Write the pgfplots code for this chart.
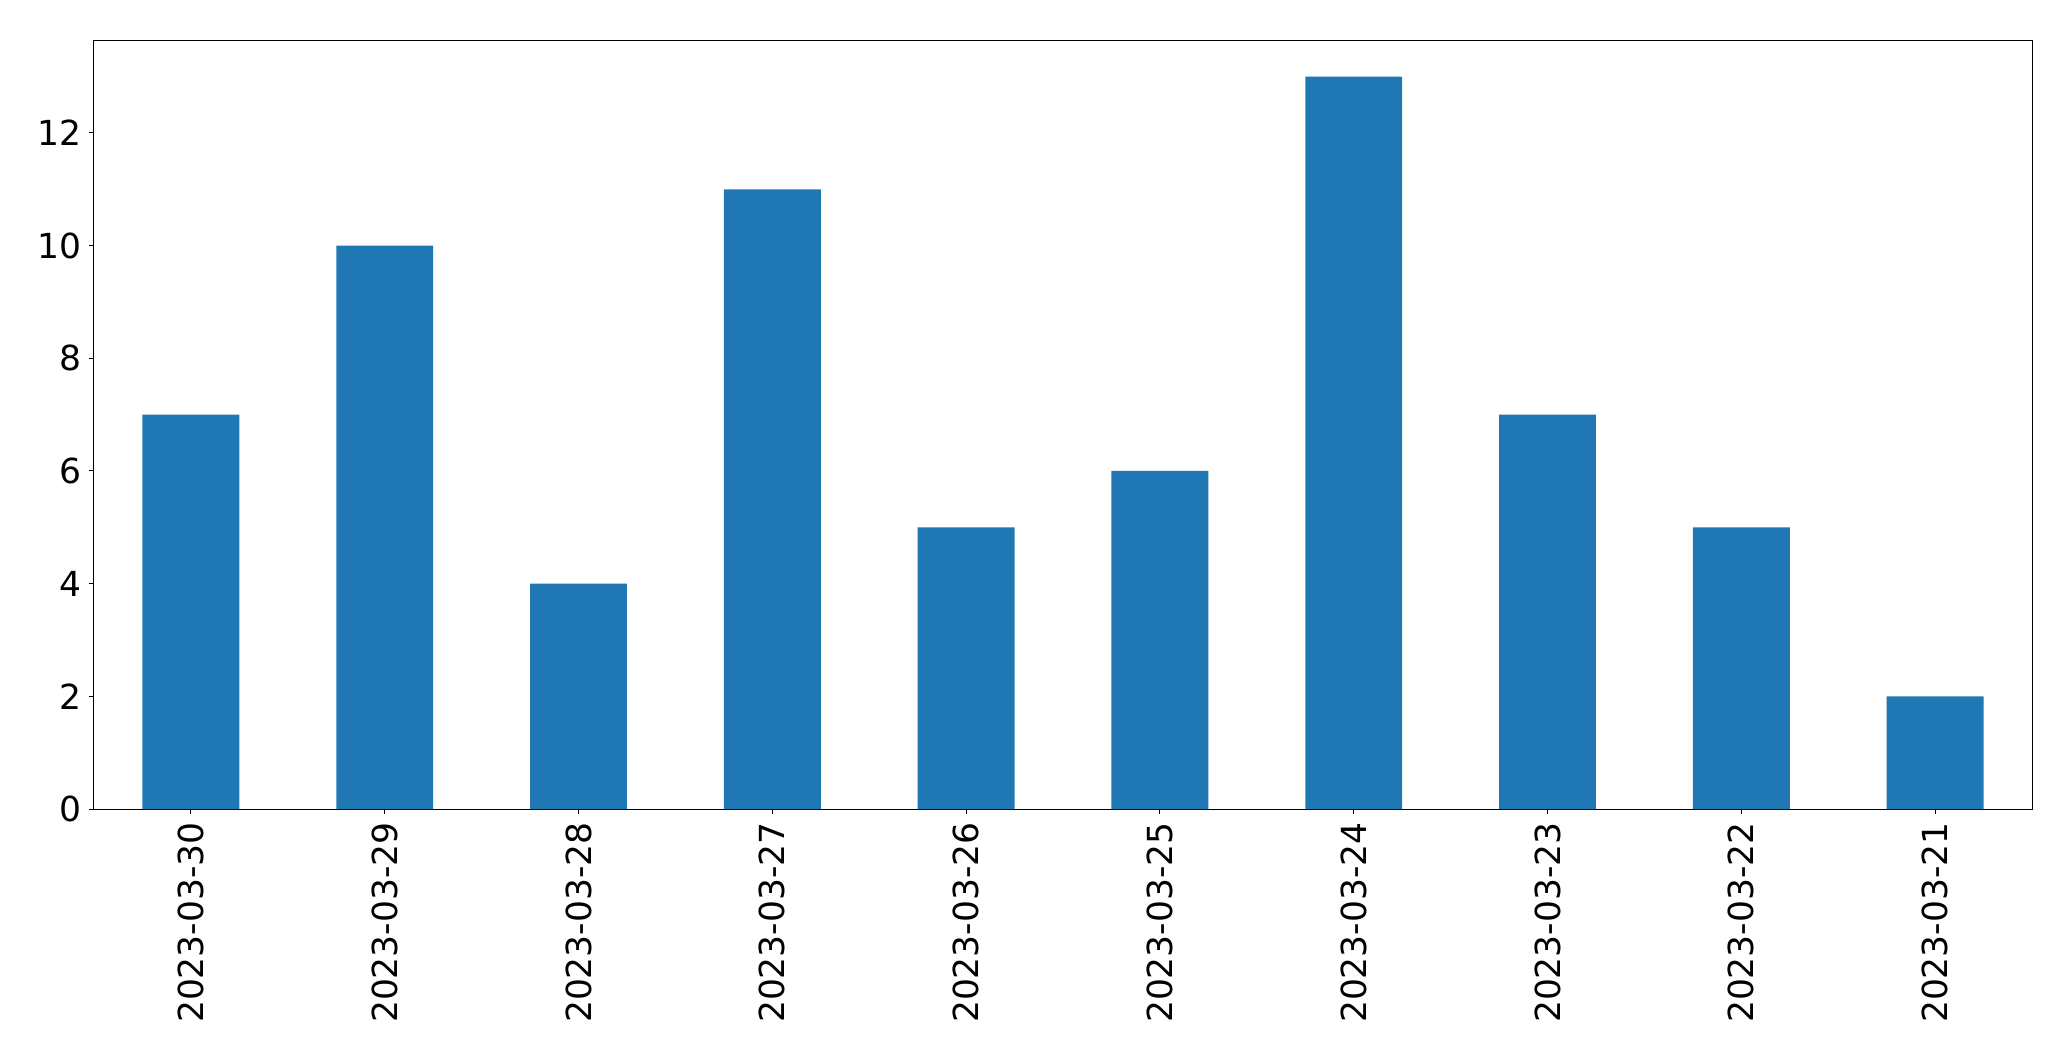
\documentclass[border=0pt]{standalone}
\usepackage{pgfplots}
\pgfplotsset{compat=1.18}
\usepackage{fontspec}
\setmainfont{DejaVu Sans}
\definecolor{tabblue}{HTML}{1F77B4}
\begin{document}
\begin{tikzpicture}
\begin{axis}[
  width=969pt, height=384.5pt,
  scale only axis,
  xmin=-0.5, xmax=9.5,
  ymin=0, ymax=13.65,
  xtick={0,...,9},
  xticklabels={2023-03-30,2023-03-29,2023-03-28,2023-03-27,2023-03-26,2023-03-25,2023-03-24,2023-03-23,2023-03-22,2023-03-21},
  ytick={0,2,4,6,8,10,12},
  tick align=outside,
  xtick pos=left, ytick pos=left,
  major tick length=2.5pt,
  tick style={black, line width=0.5pt},
  axis line style={black, line width=0.5pt},
  /pgf/number format/assume math mode=true,
  tick label style={font=\fontsize{17.25pt}{20pt}\selectfont},
  xticklabel style={rotate=90, anchor=east, inner sep=0pt, xshift=-4pt},
  yticklabel style={anchor=east, inner sep=0pt, xshift=-3.5pt},
]
\addplot[ybar, bar width=0.5, fill=tabblue, draw=none] coordinates {
(0,7) (1,10) (2,4) (3,11) (4,5) (5,6) (6,13) (7,7) (8,5) (9,2)
};
\end{axis}
\pgfresetboundingbox
\path[use as bounding box] ([shift={(-47pt,-126pt)}]current axis.south west) rectangle ([shift={(988.5pt,404.5pt)}]current axis.south west);
\end{tikzpicture}
\end{document}
